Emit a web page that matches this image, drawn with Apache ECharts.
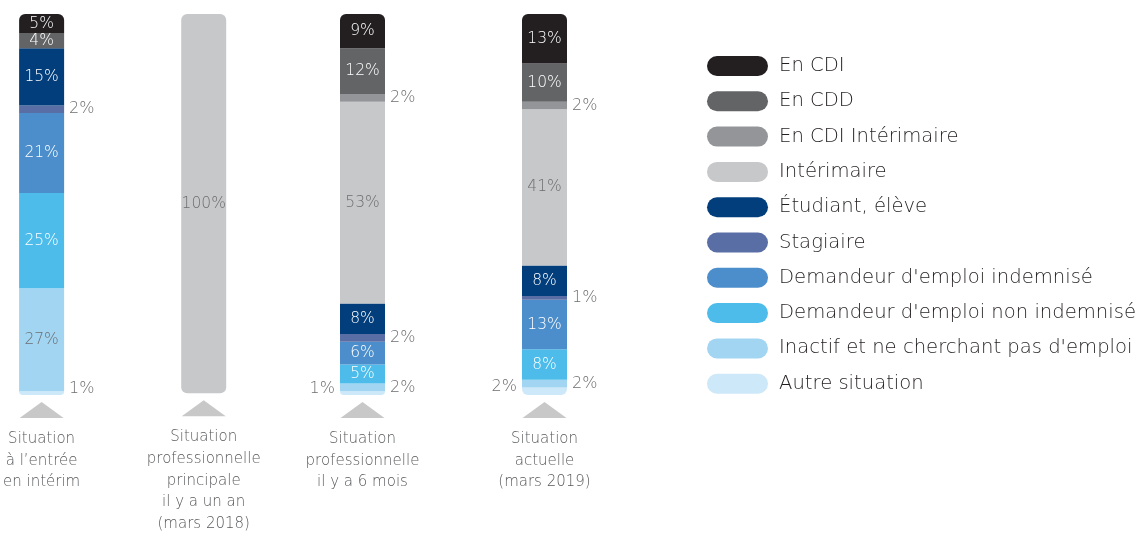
<!DOCTYPE html>
<html>
<head>
<meta charset="utf-8">
<script src="https://cdn.jsdelivr.net/npm/echarts@6/dist/echarts.min.js"></script>
<style>
  html, body { margin: 0; padding: 0; background: #ffffff; }
  #chart { width: 1142px; height: 535px; }
</style>
</head>
<body>
<div id="chart"></div>
<script>
// Periods shown as columns
const categories = [
  'Situation\nà l\u2019entrée\nen intérim',
  'Situation\nprofessionnelle\nprincipale\nil y a un an\n(mars 2018)',
  'Situation\nprofessionnelle\nil y a 6 mois',
  'Situation\nactuelle\n(mars 2019)'
];

// Situation categories, in legend order (top of stack first)
const seriesNames = [
  'En CDI',
  'En CDD',
  'En CDI Intérimaire',
  'Intérimaire',
  'Étudiant, élève',
  'Stagiaire',
  "Demandeur d'emploi indemnisé",
  "Demandeur d'emploi non indemnisé",
  "Inactif et ne cherchant pas d'emploi",
  'Autre situation'
];

// Shares (%) per period
const enCdi          = [5, 0, 9, 13];
const enCdd          = [4, 0, 12, 10];
const enCdiInterim   = [0, 0, 2, 2];
const interimaire    = [0, 100, 53, 41];
const etudiant       = [15, 0, 8, 8];
const stagiaire      = [2, 0, 2, 1];
const deIndemnise    = [21, 0, 6, 13];
const deNonIndemnise = [25, 0, 5, 8];
const inactif        = [27, 0, 2, 2];
const autre          = [1, 0, 1, 2];

const seriesValues = [enCdi, enCdd, enCdiInterim, interimaire, etudiant,
  stagiaire, deIndemnise, deNonIndemnise, inactif, autre];

const colors = ['#231f20', '#636466', '#939598', '#c7c8ca', '#033e7c',
  '#5a6ea6', '#4c8ecb', '#4dbcea', '#a1d5f2', '#cde8f8'];
const lightSegments = ['Intérimaire', "Inactif et ne cherchant pas d'emploi", 'Autre situation'];

// Layout of the four columns
const FONT = 'DejaVu Sans';
const WEIGHT = 200;
const columnCenters = [41.5, 203.7, 362.5, 544.5];
const gridWidth = 60;
const barWidth = 45;
const plotTop = 14;
const plotHeight = 381;
const radius = 6;
const smallShare = 2;

const chart = echarts.init(document.getElementById('chart'), null, { renderer: 'canvas' });

const grids = [], xAxes = [], yAxes = [], series = [];

columnCenters.forEach((cx, g) => {
  grids.push({ left: cx - gridWidth / 2, top: plotTop, width: gridWidth, height: plotHeight });
  xAxes.push({
    type: 'category', gridIndex: g, data: [categories[g]],
    axisLine: { show: false }, axisTick: { show: false },
    axisLabel: { color: '#58595b', fontFamily: FONT, fontWeight: WEIGHT, fontSize: 15, lineHeight: 21.75, margin: 33, interval: 0 }
  });
  yAxes.push({ type: 'value', gridIndex: g, min: 0, max: 100, show: false });

  // stacking order: bottom of the column first
  const order = seriesNames.map((_, i) => i).reverse();
  const nonZero = order.filter(i => seriesValues[i][g] > 0);
  const bottomIdx = nonZero[0];
  const topIdx = nonZero[nonZero.length - 1];

  order.forEach((i, pos) => {
    const v = seriesValues[i][g];
    const r = [0, 0, 0, 0];
    if (i === topIdx) { r[0] = radius; r[1] = radius; }
    if (i === bottomIdx) { r[2] = radius; r[3] = radius; }

    let label;
    if (v <= 0) {
      label = { show: false };
    } else if (v <= smallShare) {
      // small share: value written beside the column
      const above = order[pos + 1];
      const aboveSmall = above !== undefined && seriesValues[above][g] > 0 && seriesValues[above][g] <= smallShare;
      const side = (i === bottomIdx && aboveSmall) ? 'left' : 'right';
      label = {
        show: true, position: side, distance: 5,
        offset: i === bottomIdx ? [0, -4] : [0, 0],
        color: '#6d6e71', fontFamily: FONT, fontWeight: WEIGHT, fontSize: 16
      };
    } else {
      label = {
        show: true, position: 'inside',
        color: lightSegments.includes(seriesNames[i]) ? '#6d6e71' : '#ffffff',
        fontFamily: FONT, fontWeight: WEIGHT, fontSize: 15.5
      };
    }

    series.push({
      type: 'bar', name: seriesNames[i], xAxisIndex: g, yAxisIndex: g,
      stack: 'col' + g, barWidth: barWidth,
      itemStyle: { color: colors[i] },
      label: { formatter: p => p.value + '%' },
      emphasis: { disabled: true },
      data: [{ value: v, itemStyle: { borderRadius: r }, label: label }]
    });
  });
});

chart.setOption({
  animation: false,
  backgroundColor: '#ffffff',
  color: colors,
  grid: grids,
  xAxis: xAxes,
  yAxis: yAxes,
  legend: {
    orient: 'vertical', left: 707, top: 56, padding: 0,
    data: seriesNames,
    icon: 'path://M10,0H51A10,10,0,0,1,51,20H10A10,10,0,0,1,10,0Z',
    itemWidth: 61, itemHeight: 20, itemGap: 15.3,
    textStyle: { color: '#231f20', fontFamily: FONT, fontWeight: WEIGHT, fontSize: 19.6, lineHeight: 20, padding: [0, 0, 0, 6] },
    selectedMode: false
  },
  series: series
});

// Grey pointers under each column
const pointers = columnCenters.map((_, g) => {
  const x = chart.convertToPixel({ xAxisIndex: g }, categories[g]);
  const y = chart.convertToPixel({ yAxisIndex: g }, 0);
  return {
    type: 'polygon', silent: true,
    shape: { points: [[x - 22, y + 23], [x + 22, y + 23], [x, y + 7]] },
    style: { fill: '#c8c8c8' }
  };
});
chart.setOption({ graphic: pointers });
</script>
</body>
</html>
